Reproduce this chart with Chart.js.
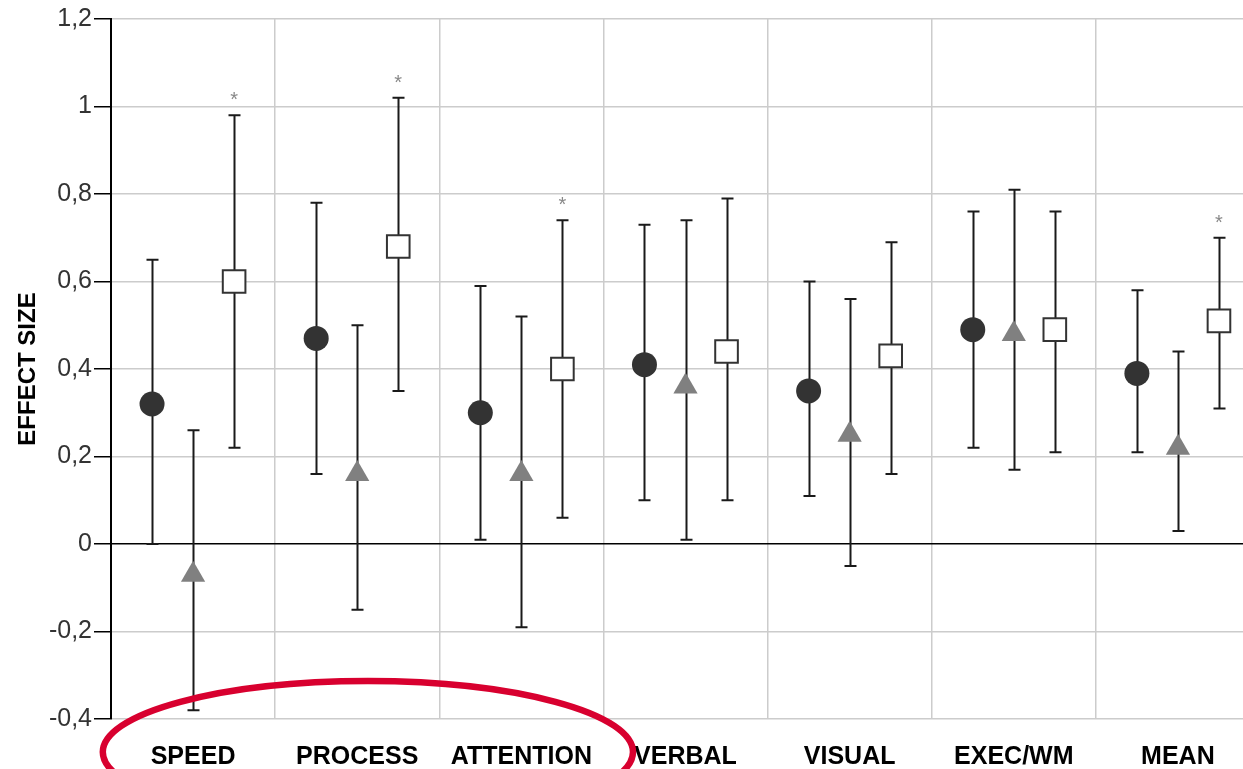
<!doctype html>
<html lang="en">
<head>
<meta charset="utf-8">
<title>EFFECT SIZE</title>
<script src="https://cdn.jsdelivr.net/npm/chart.js@4.4.1/dist/chart.umd.min.js"></script>
<style>
  html, body { margin: 0; padding: 0; background: #fff; overflow: hidden; }
  #wrap { width: 1243px; height: 769px; overflow: hidden; }
  #chart { display: block; }
</style>
</head>
<body>
<div id="wrap"><canvas id="chart" width="1260" height="769"></canvas></div>
<script>
// categories
var categorias = ['SPEED', 'PROCESS', 'ATTENTION', 'VERBAL', 'VISUAL', 'EXEC/WM', 'MEAN'];
// y ticks
var yMin = -0.4, yMax = 1.2, yStep = 0.2;

// serie 1 (circle)
var circEs = [0.32, 0.47, 0.30, 0.41, 0.35, 0.49, 0.39];
var circLo = [0.00, 0.16, 0.01, 0.10, 0.11, 0.22, 0.21];
var circHi = [0.65, 0.78, 0.59, 0.73, 0.60, 0.76, 0.58];
// serie 2 (triangle)
var triEs = [-0.07, 0.16, 0.16, 0.36, 0.25, 0.48, 0.22];
var triLo = [-0.38, -0.15, -0.19, 0.01, -0.05, 0.17, 0.03];
var triHi = [0.26, 0.50, 0.52, 0.74, 0.56, 0.81, 0.44];
// serie 3 (square)
var sqEs = [0.60, 0.68, 0.40, 0.44, 0.43, 0.49, 0.51];
var sqLo = [0.22, 0.35, 0.06, 0.10, 0.16, 0.21, 0.31];
var sqHi = [0.98, 1.02, 0.74, 0.79, 0.69, 0.76, 0.70];
// significant (asterisk over square)
var sqSig = [true, true, true, false, false, false, true];

var offs = [-0.25, 0, 0.25];

function puntos(es, k) {
    return es.map(function (v, i) { return { x: i + offs[k], y: v }; });
}

// error bars + asterisks
var errorBars = {
    id: 'errorBars',
    beforeDatasetsDraw: function (chart) {
        var ctx = chart.ctx, xs = chart.scales.x, ys = chart.scales.y;
        var grupos = [[circLo, circHi], [triLo, triHi], [sqLo, sqHi]];
        ctx.save();
        ctx.strokeStyle = '#1a1a1a';
        ctx.lineWidth = 2;
        grupos.forEach(function (g, k) {
            for (var i = 0; i < categorias.length; i++) {
                var x = Math.round(xs.getPixelForValue(i + offs[k])) + 0.5;
                var y1 = ys.getPixelForValue(g[0][i]);
                var y2 = ys.getPixelForValue(g[1][i]);
                ctx.beginPath();
                ctx.moveTo(x, y1); ctx.lineTo(x, y2);
                ctx.moveTo(x - 6, y1); ctx.lineTo(x + 6, y1);
                ctx.moveTo(x - 6, y2); ctx.lineTo(x + 6, y2);
                ctx.stroke();
            }
        });
        ctx.fillStyle = '#888';
        ctx.font = '20px "Liberation Sans", Arial, sans-serif';
        ctx.textAlign = 'center';
        ctx.textBaseline = 'alphabetic';
        for (var i = 0; i < categorias.length; i++) {
            if (!sqSig[i]) continue;
            ctx.fillText('*', xs.getPixelForValue(i + offs[2]), ys.getPixelForValue(sqHi[i]) - 9);
        }
        ctx.restore();
    }
};

// red ellipse annotation
var elipse = {
    id: 'elipse',
    afterDraw: function (chart) {
        var ctx = chart.ctx, xs = chart.scales.x, a = chart.chartArea;
        var x0 = xs.getPixelForValue(-0.55), x1 = xs.getPixelForValue(2.68);
        ctx.save();
        ctx.strokeStyle = '#d8002f';
        ctx.lineWidth = 6.5;
        ctx.beginPath();
        ctx.ellipse((x0 + x1) / 2, a.bottom + 33, (x1 - x0) / 2, 71, 0, 0, Math.PI * 2);
        ctx.stroke();
        ctx.restore();
    }
};

var xTicks = [];
for (var t = -0.5; t <= categorias.length - 0.5; t += 0.5) xTicks.push(t);

new Chart(document.getElementById('chart').getContext('2d'), {
    type: 'scatter',
    data: {
        datasets: [{
            label: 'serie 1',
            data: puntos(circEs, 0),
            pointStyle: 'circle',
            pointRadius: 12.5,
            backgroundColor: '#333333',
            borderColor: '#333333',
            borderWidth: 0
        }, {
            label: 'serie 2',
            data: puntos(triEs, 1),
            pointStyle: 'triangle',
            pointRadius: 14,
            backgroundColor: '#808080',
            borderColor: '#808080',
            borderWidth: 0
        }, {
            label: 'serie 3',
            data: puntos(sqEs, 2),
            pointStyle: 'rect',
            pointRadius: 16,
            backgroundColor: '#ffffff',
            borderColor: '#333333',
            borderWidth: 2
        }]
    },
    options: {
        responsive: false,
        animation: false,
        events: [],
        layout: { autoPadding: false, padding: { top: 19, right: 0, bottom: 0, left: 0 } },
        plugins: { legend: { display: false }, tooltip: { enabled: false } },
        scales: {
            x: {
                type: 'linear',
                min: -0.5,
                max: categorias.length - 0.5,
                afterBuildTicks: function (scale) {
                    scale.ticks = xTicks.map(function (v) { return { value: v }; });
                },
                afterFit: function (scale) {
                    scale.height = 50;
                    // plot runs on past the right edge of the picture
                    scale.paddingLeft = 0;
                    scale.paddingRight = 0;
                },
                border: { display: false },
                grid: {
                    drawTicks: false,
                    lineWidth: 1.5,
                    color: function (c) {
                        return Number.isInteger(c.tick && c.tick.value) ? 'rgba(0,0,0,0)' : '#cccccc';
                    }
                },
                ticks: {
                    autoSkip: false,
                    maxRotation: 0,
                    minRotation: 0,
                    padding: 23,
                    color: '#000',
                    font: { family: '"Liberation Sans", Arial, sans-serif', size: 25, weight: 'bold' },
                    callback: function (v) { return Number.isInteger(v) ? categorias[v] : ''; }
                }
            },
            y: {
                min: yMin,
                max: yMax,
                afterFit: function (scale) { scale.width = 111; },
                border: { color: '#000', width: 2 },
                grid: {
                    lineWidth: 1.5,
                    tickLength: 17,
                    tickColor: '#000',
                    color: function (c) {
                        return c.tick && Math.abs(c.tick.value) < 1e-9 ? '#000' : '#cccccc';
                    }
                },
                ticks: {
                    stepSize: yStep,
                    padding: 2,
                    color: '#333',
                    font: { family: '"Liberation Sans", Arial, sans-serif', size: 25 },
                    callback: function (v) { return String(Math.round(v * 10) / 10).replace('.', ','); }
                },
                title: {
                    display: true,
                    text: 'EFFECT SIZE',
                    color: '#000',
                    padding: { top: 14, bottom: 0 },
                    font: { family: '"Liberation Sans", Arial, sans-serif', size: 24, weight: 'bold' }
                }
            }
        }
    },
    plugins: [errorBars, elipse]
});
</script>
</body>
</html>
